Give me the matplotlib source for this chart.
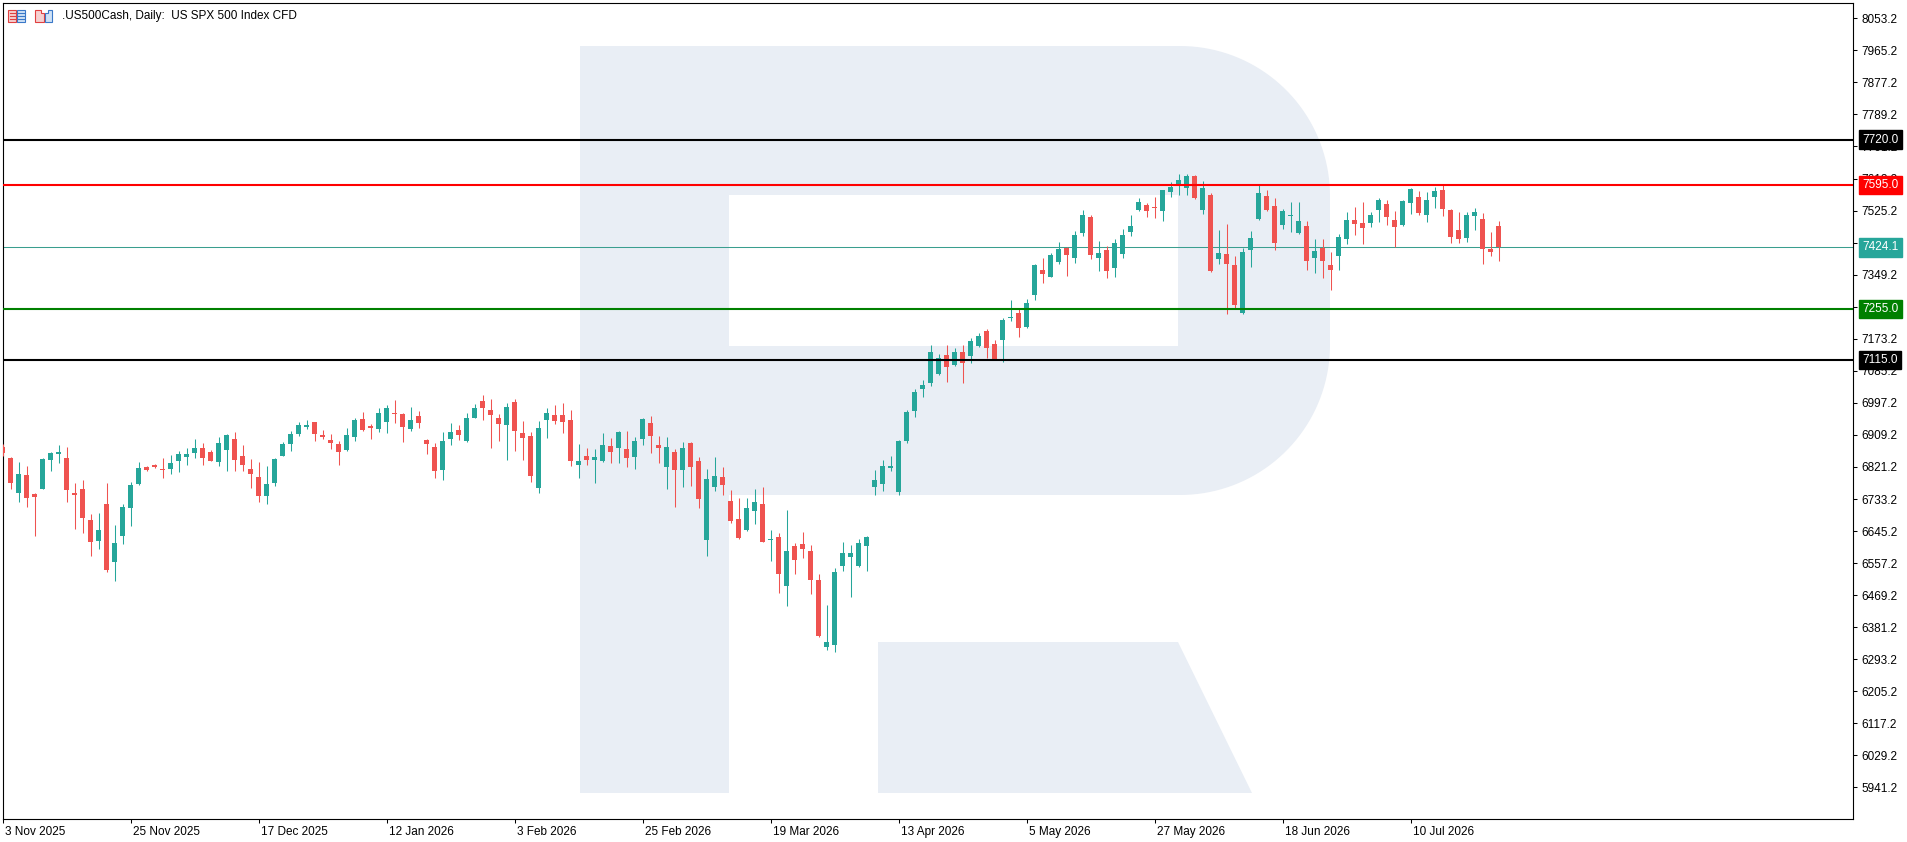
import numpy as np
import matplotlib
matplotlib.use("Agg")
import matplotlib.pyplot as plt
import matplotlib.transforms as mtransforms
from matplotlib.patches import Polygon, Rectangle

# daily OHLC (bar 0 = 3 Nov 2025)
opens = [6876.0, 6845.8, 6750.6, 6799.0, 6746.9, 6761.6, 6841.2, 6857.7, 6845.8, 6749.7,
         6760.7, 6675.5, 6618.8, 6719.5, 6561.1, 6632.5, 6709.4, 6775.3, 6821.1, 6826.6,
         6815.6, 6815.6, 6837.5, 6848.5, 6859.5, 6873.2, 6862.3, 6834.8, 6867.7, 6898.0,
         6851.3, 6815.6, 6793.6, 6741.4, 6777.1, 6851.3, 6884.2, 6911.7, 6930.9, 6944.6,
         6909.0, 6895.2, 6884.3, 6867.8, 6903.5, 6952.9, 6933.7, 6925.5, 6944.7, 6969.4,
         6966.6, 6925.5, 6961.1, 6895.2, 6876.0, 6812.9, 6898.0, 6922.7, 6892.5, 6955.7,
         7002.3, 6977.6, 6955.7, 6936.4, 6999.6, 6914.5, 6906.2, 6763.4, 6950.2, 6963.9,
         6963.9, 6950.2, 6826.6, 6851.3, 6840.3, 6837.6, 6878.8, 6873.3, 6870.5, 6848.5,
         6898.0, 6941.9, 6881.5, 6821.1, 6862.3, 6812.8, 6887.0, 6837.5, 6620.6, 6766.2,
         6793.6, 6727.7, 6678.3, 6648.1, 6700.3, 6719.5, 6620.6, 6628.9, 6494.3, 6604.1,
         6609.6, 6590.4, 6510.8, 6326.8, 6332.3, 6549.2, 6573.9, 6549.2, 6604.1, 6766.2,
         6774.4, 6818.3, 6752.4, 6892.5, 6974.9, 7035.3, 7051.8, 7076.5, 7128.6, 7101.2,
         7136.9, 7125.9, 7153.4, 7194.6, 7158.8, 7169.8, 7230.2, 7244.0, 7205.5, 7293.4,
         7362.0, 7342.8, 7384.0, 7422.5, 7395.0, 7463.7, 7507.6, 7395.0, 7417.0, 7367.5,
         7406.0, 7466.4, 7526.8, 7540.5, 7535.0, 7524.1, 7576.2, 7595.5, 7588.1, 7621.1,
         7527.7, 7568.9, 7393.2, 7406.9, 7376.7, 7244.9, 7417.9, 7501.2, 7566.2, 7538.7,
         7486.5, 7511.2, 7464.6, 7483.8, 7395.9, 7423.4, 7376.7, 7401.4, 7448.1, 7500.3,
         7492.0, 7492.0, 7527.7, 7544.2, 7500.3, 7486.5, 7546.9, 7563.4, 7514.0, 7563.4,
         7582.6, 7527.7, 7472.8, 7450.8, 7511.2, 7503.0, 7420.6, 7483.8]
highs = [6885.0, 6848.5, 6834.8, 6823.8, 6749.7, 6845.8, 6862.3, 6881.5, 6876.0, 6777.1,
         6785.4, 6692.0, 6694.8, 6777.1, 6661.8, 6719.5, 6779.9, 6834.8, 6823.8, 6829.3,
         6845.8, 6854.0, 6865.0, 6873.2, 6898.0, 6887.0, 6867.7, 6903.4, 6911.7, 6917.2,
         6881.5, 6843.0, 6834.8, 6823.8, 6845.8, 6889.7, 6919.9, 6944.6, 6950.1, 6944.6,
         6922.7, 6911.7, 6893.4, 6928.2, 6955.7, 6972.1, 6939.2, 6983.1, 6991.4, 7005.1,
         6969.4, 6985.9, 6974.9, 6898.0, 6887.0, 6917.2, 6941.9, 6936.4, 6969.4, 6994.1,
         7018.8, 7007.8, 6966.6, 6996.8, 7007.8, 6947.4, 6917.2, 6947.4, 6983.1, 6991.4,
         6996.8, 6977.6, 6884.3, 6873.3, 6870.5, 6914.5, 6900.7, 6920.0, 6919.9, 6903.4,
         6955.6, 6961.1, 6906.2, 6903.4, 6870.5, 6889.7, 6889.7, 6848.5, 6815.6, 6848.5,
         6821.1, 6757.9, 6735.9, 6735.9, 6760.7, 6766.2, 6648.1, 6639.8, 6703.0, 6612.4,
         6642.6, 6606.9, 6527.3, 6442.1, 6543.7, 6615.1, 6606.9, 6623.4, 6631.6, 6812.8,
         6840.3, 6851.3, 6895.2, 6977.6, 7035.3, 7060.0, 7156.1, 7131.4, 7156.1, 7147.9,
         7156.1, 7175.3, 7189.1, 7200.1, 7169.8, 7230.2, 7279.7, 7255.0, 7282.4, 7378.5,
         7395.0, 7408.7, 7438.9, 7424.0, 7469.1, 7526.8, 7513.1, 7441.7, 7428.0, 7447.2,
         7474.6, 7513.1, 7559.8, 7546.0, 7562.5, 7581.7, 7603.7, 7625.7, 7626.6, 7623.8,
         7607.3, 7574.4, 7472.8, 7489.3, 7401.4, 7423.4, 7470.1, 7596.4, 7582.6, 7560.7,
         7530.5, 7549.7, 7549.7, 7497.5, 7448.1, 7448.1, 7412.4, 7461.8, 7522.2, 7536.0,
         7549.7, 7522.2, 7560.7, 7555.2, 7525.0, 7555.2, 7588.1, 7579.9, 7577.1, 7590.9,
         7596.4, 7530.5, 7522.2, 7522.2, 7533.2, 7519.5, 7467.3, 7497.5]
lows = [6850.0, 6761.6, 6725.9, 6712.1, 6632.5, 6761.6, 6811.0, 6833.0, 6725.9, 6651.7,
        6640.7, 6577.6, 6596.8, 6533.7, 6509.0, 6610.5, 6660.0, 6772.5, 6810.1, 6819.2,
        6790.9, 6801.8, 6807.3, 6826.6, 6845.8, 6826.6, 6837.5, 6823.8, 6810.1, 6810.1,
        6810.1, 6763.4, 6725.0, 6719.5, 6768.9, 6851.3, 6865.0, 6906.2, 6925.4, 6892.5,
        6898.9, 6870.5, 6826.6, 6865.0, 6892.5, 6919.9, 6898.0, 6917.2, 6914.5, 6941.9,
        6889.8, 6919.9, 6928.2, 6856.8, 6790.9, 6785.4, 6881.5, 6895.2, 6889.8, 6955.7,
        6950.2, 6873.3, 6892.5, 6840.3, 6865.0, 6840.3, 6779.9, 6749.7, 6900.7, 6939.2,
        6914.5, 6823.9, 6790.9, 6826.6, 6777.2, 6834.8, 6832.1, 6832.1, 6821.1, 6815.6,
        6881.5, 6859.5, 6832.1, 6760.7, 6711.2, 6766.2, 6768.9, 6708.5, 6576.7, 6755.2,
        6744.2, 6667.3, 6623.4, 6645.3, 6664.5, 6615.1, 6563.0, 6475.1, 6439.4, 6527.3,
        6571.2, 6472.3, 6354.3, 6318.6, 6313.1, 6535.5, 6464.1, 6546.5, 6535.5, 6744.2,
        6755.2, 6810.1, 6744.2, 6887.0, 6958.4, 7013.3, 7043.5, 7073.7, 7054.5, 7098.5,
        7051.8, 7106.7, 7150.6, 7120.4, 7114.9, 7109.4, 7222.0, 7178.1, 7202.8, 7279.7,
        7326.4, 7342.8, 7378.5, 7345.6, 7381.3, 7455.4, 7392.3, 7359.3, 7340.1, 7342.8,
        7395.0, 7455.4, 7524.1, 7507.6, 7504.8, 7496.6, 7562.5, 7568.0, 7568.9, 7557.9,
        7516.7, 7357.5, 7379.4, 7242.1, 7258.6, 7242.1, 7371.2, 7498.4, 7525.0, 7417.9,
        7475.5, 7467.3, 7461.8, 7363.0, 7354.7, 7341.0, 7308.0, 7363.0, 7434.4, 7459.1,
        7434.4, 7481.0, 7494.8, 7486.5, 7426.1, 7483.8, 7516.7, 7514.0, 7494.8, 7533.2,
        7511.2, 7437.1, 7437.1, 7439.9, 7472.8, 7379.4, 7401.4, 7387.7]
closes = [6860.0, 6778.0, 6801.8, 6736.9, 6739.6, 6843.0, 6859.5, 6862.3, 6758.8, 6745.1,
          6681.9, 6616.0, 6648.1, 6539.2, 6612.4, 6711.2, 6771.6, 6818.3, 6812.8, 6821.1,
          6812.8, 6832.0, 6856.8, 6856.8, 6873.2, 6845.8, 6837.5, 6887.0, 6908.9, 6840.3,
          6826.6, 6801.8, 6741.4, 6774.4, 6843.0, 6884.2, 6911.7, 6936.4, 6936.4, 6911.7,
          6904.4, 6887.9, 6862.3, 6909.0, 6950.2, 6922.7, 6928.2, 6969.4, 6983.1, 6966.6,
          6930.9, 6950.2, 6941.9, 6884.3, 6810.1, 6892.5, 6917.2, 6909.0, 6955.7, 6983.1,
          6983.1, 6963.9, 6939.2, 6985.9, 6920.0, 6900.7, 6796.4, 6928.2, 6969.4, 6947.4,
          6944.7, 6837.6, 6837.6, 6840.3, 6848.6, 6881.5, 6862.3, 6917.2, 6845.8, 6892.5,
          6952.9, 6906.2, 6873.2, 6876.0, 6812.8, 6873.2, 6821.1, 6733.2, 6788.1, 6796.4,
          6771.6, 6672.8, 6626.1, 6708.5, 6725.0, 6615.1, 6623.4, 6527.3, 6590.4, 6565.7,
          6595.9, 6510.8, 6357.0, 6340.5, 6532.8, 6584.9, 6584.9, 6612.4, 6628.9, 6785.4,
          6823.8, 6823.8, 6892.5, 6972.1, 7027.0, 7046.3, 7136.9, 7120.4, 7095.7, 7136.9,
          7106.7, 7167.1, 7180.8, 7147.9, 7114.9, 7224.8, 7233.0, 7202.8, 7271.4, 7375.8,
          7351.1, 7403.2, 7419.7, 7403.2, 7458.2, 7513.1, 7403.2, 7408.7, 7359.3, 7436.2,
          7458.2, 7482.9, 7548.8, 7524.1, 7532.3, 7581.7, 7590.0, 7609.2, 7621.1, 7560.7,
          7588.1, 7360.2, 7409.6, 7379.4, 7266.9, 7412.4, 7450.8, 7574.4, 7527.7, 7437.1,
          7525.0, 7514.0, 7497.5, 7387.7, 7415.1, 7387.7, 7363.0, 7453.6, 7500.3, 7489.3,
          7478.3, 7514.0, 7555.2, 7508.5, 7481.0, 7552.4, 7585.4, 7519.5, 7555.2, 7579.9,
          7530.5, 7453.6, 7448.1, 7514.0, 7522.2, 7420.6, 7412.4, 7424.1]

date_labels = ["3 Nov 2025", "25 Nov 2025", "17 Dec 2025", "12 Jan 2026", "3 Feb 2026",
               "25 Feb 2026", "19 Mar 2026", "13 Apr 2026", "5 May 2026", "27 May 2026",
               "18 Jun 2026", "10 Jul 2026"]
label_bars = [0, 16, 32, 48, 64, 80, 96, 112, 128, 144, 160, 176]

levels = [7720.0, 7595.0, 7255.0, 7115.0]
level_colors = ["black", "#ff0000", "#008000", "black"]

y_ticks = [5941.2 + 88 * i for i in range(25)]

UP = "#26a69a"
DOWN = "#ef5350"
WM = "#e9eef5"

W, H = 1908, 842
plt.rcParams["font.family"] = ["Liberation Sans", "DejaVu Sans"]

fig = plt.figure(figsize=(W / 100, H / 100), dpi=100)

# background layer in pixel coords: logo watermark and header icons
bg = fig.add_axes([0, 0, 1, 1], zorder=0)
bg.set_xlim(0, W)
bg.set_ylim(H, 0)
bg.axis("off")


def arc(cx, cy, r, t0, t1, n=40):
    t = np.radians(np.linspace(t0, t1, n))
    return list(zip(cx + r * np.cos(t), cy - r * np.sin(t)))


bowl = [(580, 46)] + arc(1180, 196, 150, 90, 0) + arc(1180, 345, 150, 0, -90) \
    + [(729, 495), (729, 793), (580, 793)]
bg.add_patch(Polygon(bowl, closed=True, fc=WM, ec="none"))
bg.add_patch(Rectangle((729, 195), 449, 151, fc="white", ec="none"))
bg.add_patch(Polygon([(878, 642), (1178, 642), (1252, 793), (878, 793)], closed=True, fc=WM, ec="none"))

# little header icons
bg.add_patch(Rectangle((8.5, 9.5), 8, 12, fc="#f6d0d0", ec="#e04040", lw=0.8))
bg.add_patch(Rectangle((17, 9.5), 8, 12, fc="#d0e2f6", ec="#3a78c8", lw=0.8))
for yy in [13, 16, 19]:
    bg.plot([10, 15.5], [yy, yy], color="#e04040", lw=0.8)
    bg.plot([18.5, 24], [yy, yy], color="#3a78c8", lw=0.8)
bg.add_patch(Polygon([(35.5, 10), (41, 10), (41, 13), (44, 13), (44, 22), (35.5, 22)], closed=True,
                     fc="#f6d0d0", ec="#e04040", lw=0.8))
bg.add_patch(Polygon([(45, 13), (48, 13), (48, 10), (52.5, 10), (52.5, 22), (45, 22)], closed=True,
                     fc="#d0e2f6", ec="#3a78c8", lw=0.8))
fig.text(62 / W, 1 - 15.5 / H, ".US500Cash, Daily:  US SPX 500 Index CFD", fontsize=8.5,
         ha="left", va="center", color="black")

# main chart
ax = fig.add_axes([2.5 / W, 23 / H, 1850.5 / W, 816 / H], zorder=1)
ax.set_facecolor("none")

o = np.array(opens)
hi = np.array(highs)
lo = np.array(lows)
c = np.array(closes)
x = np.arange(len(o))
cols = np.where(c >= o, UP, DOWN)

ax.axhline(closes[-1], color="#3a9e8f", lw=0.75, zorder=2)
ax.vlines(x, lo, hi, colors=cols, lw=0.75, zorder=3)
ax.bar(x, np.maximum(np.abs(c - o), 2.7), bottom=np.minimum(o, c), width=0.625,
       color=cols, lw=0, zorder=4)

for lev, col in zip(levels, level_colors):
    ax.axhline(lev, color=col, lw=1.5, zorder=5)

ax.set_xlim(-0.02, 231.3)
ax.set_ylim(5854.5, 8095.2)

for sp in ax.spines.values():
    sp.set_color("black")
    sp.set_linewidth(0.8)

ax.yaxis.tick_right()
ax.set_yticks(y_ticks)
ax.set_yticklabels(["%.1f" % v for v in y_ticks])
ax.tick_params(axis="y", length=3, width=0.75, pad=3, labelsize=8.5, direction="out")

ax.set_xticks(label_bars)
ax.set_xticklabels(date_labels, ha="left")
ax.tick_params(axis="x", length=3, width=0.75, pad=2, labelsize=8.5, direction="out")
shift = mtransforms.ScaledTranslation(2 / 72, 0, fig.dpi_scale_trans)
for lab in ax.get_xticklabels():
    lab.set_transform(lab.get_transform() + shift)

# price tags on the right scale
tag_tr = mtransforms.blended_transform_factory(ax.transAxes, ax.transData)
tags = levels[:2] + [closes[-1]] + levels[2:]
tag_cols = level_colors[:2] + [UP] + level_colors[2:]
for val, col in zip(tags, tag_cols):
    ax.text(1.0049, val, "%.1f" % val, transform=tag_tr, ha="left", va="center",
            fontsize=8.5, color="white", zorder=10, clip_on=False,
            bbox=dict(boxstyle="square,pad=0.28", fc=col, ec=col))

fig.savefig("out.png", dpi=100)
